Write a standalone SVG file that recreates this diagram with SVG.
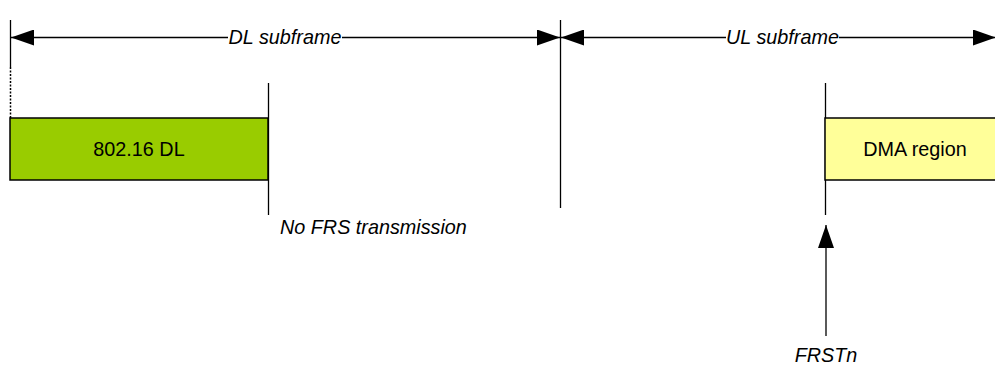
<svg xmlns="http://www.w3.org/2000/svg" width="995" height="366" viewBox="0 0 995 366">
  <style>
    .ln { stroke: #000; stroke-width: 1.3; fill: none; }
    .box { stroke: #000; stroke-width: 1.5; }
    .t { font-family: "Liberation Sans", Arial, sans-serif; font-size: 19.8px; fill: #000; }
    .i { font-style: italic; }
  </style>
  <defs>
    <marker id="ah" viewBox="0 0 23 16" refX="23" refY="8" markerWidth="23" markerHeight="16" markerUnits="userSpaceOnUse" orient="auto-start-reverse">
      <path d="M0,0 L23,8 L0,16 Z" fill="#000"/>
    </marker>
  </defs>

  <g id="connectors">
    <!-- frame boundary, solid then dotted down to the DL block -->
    <line class="ln" x1="10.5" y1="20" x2="10.5" y2="67"/>
    <line x1="10.5" y1="67" x2="10.5" y2="118" stroke="#000" stroke-width="1.5" stroke-dasharray="2,1.5"/>
    <!-- DL / UL boundary -->
    <line class="ln" x1="560.5" y1="20" x2="560.5" y2="208"/>
    <!-- end of DL burst -->
    <line class="ln" x1="268.5" y1="83" x2="268.5" y2="215"/>
    <!-- start of DMA region -->
    <line class="ln" x1="825.5" y1="83" x2="825.5" y2="215"/>
    <!-- subframe extent arrows -->
    <line class="ln" x1="11" y1="37.5" x2="560" y2="37.5" marker-start="url(#ah)" marker-end="url(#ah)"/>
    <line class="ln" x1="561" y1="37.5" x2="996" y2="37.5" marker-start="url(#ah)" marker-end="url(#ah)"/>
    <!-- FRSTn pointer -->
    <line class="ln" x1="826" y1="336" x2="826" y2="225" marker-end="url(#ah)"/>
  </g>

  <g id="dl-label">
    <rect x="228" y="26" width="114" height="22" fill="#fff"/>
    <text class="t i" x="285" y="44" text-anchor="middle">DL subframe</text>
  </g>

  <g id="ul-label">
    <rect x="726" y="26" width="113" height="22" fill="#fff"/>
    <text class="t i" x="782.5" y="44" text-anchor="middle">UL subframe</text>
  </g>

  <g id="dl-burst">
    <rect class="box" x="10" y="118" width="258" height="62" fill="#99cc00"/>
    <text class="t" x="139" y="156" text-anchor="middle">802.16 DL</text>
  </g>

  <g id="dma-region">
    <rect class="box" x="825" y="118" width="175" height="62" fill="#ffff99"/>
    <text class="t" x="915" y="156" text-anchor="middle">DMA region</text>
  </g>

  <g id="no-frs">
    <text class="t i" x="280" y="234">No FRS transmission</text>
  </g>

  <g id="frstn">
    <text class="t i" x="826" y="362" text-anchor="middle">FRSTn</text>
  </g>
</svg>
